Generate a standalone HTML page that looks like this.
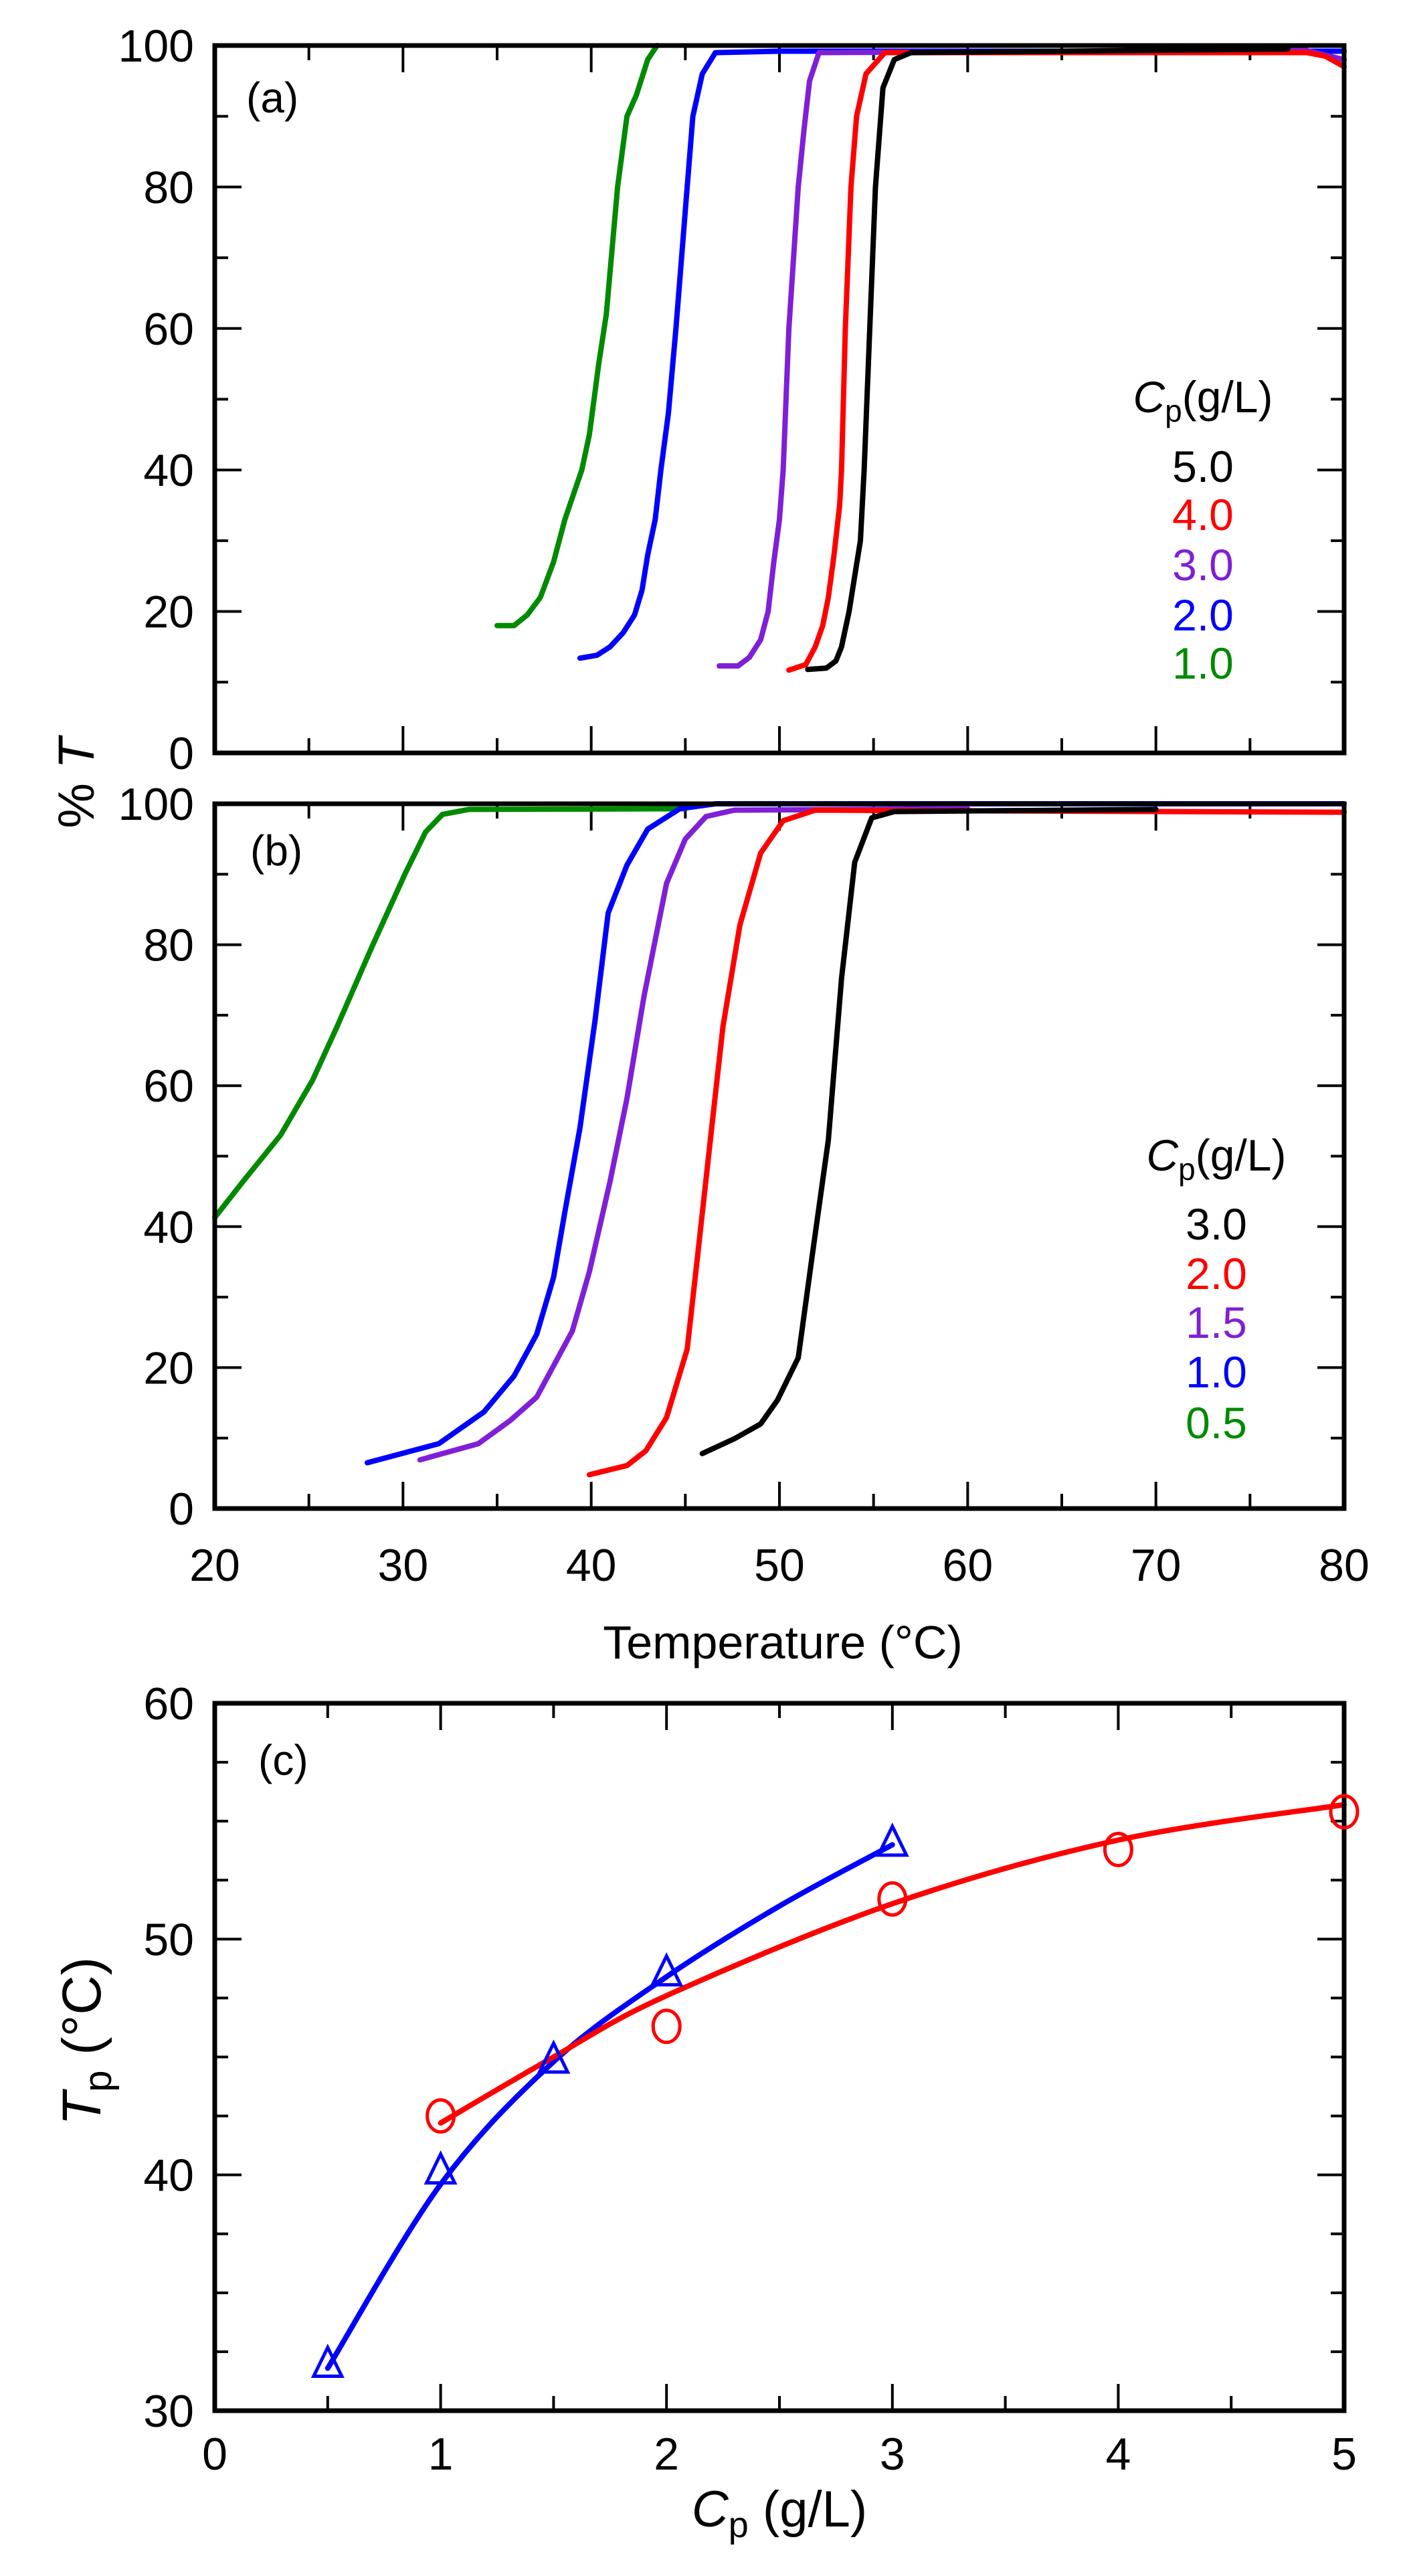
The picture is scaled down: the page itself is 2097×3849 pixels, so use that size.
<!DOCTYPE html>
<html><head><meta charset="utf-8">
<style>
html,body{margin:0;padding:0;background:#fff;}
svg{display:block;}
text{font-family:"Liberation Sans",sans-serif;}
</style></head>
<body>
<svg id="s" width="2097" height="3849" viewBox="0 0 2097 3849" xmlns="http://www.w3.org/2000/svg">
<rect width="2097" height="3849" fill="#fff"/>
<g id="ticks" stroke="#000" stroke-width="4"></g>
<g id="curves" fill="none" stroke-width="8" stroke-linejoin="round" stroke-linecap="round"></g>
<g id="frames" fill="none" stroke="#000" stroke-width="7">
<rect x="321" y="68" width="1688" height="1057"/>
<rect x="321" y="1201" width="1688" height="1053"/>
<rect x="321" y="2545" width="1688" height="1057"/>
</g>
<g font-size="68" text-anchor="end" id="ylabA"></g>
<g font-size="68" text-anchor="end" id="ylabB"></g>
<g font-size="68" text-anchor="middle" id="xlabB"></g>
<g font-size="68" text-anchor="end" id="ylabC"></g>
<g font-size="68" text-anchor="middle" id="xlabC"></g>
<text x="368" y="168" font-size="64">(a)</text>
<text x="374" y="1293" font-size="64">(b)</text>
<text x="386" y="2652" font-size="64">(c)</text>
<text transform="translate(140,1170) rotate(-90)" font-size="76" text-anchor="middle">% <tspan font-style="italic">T</tspan></text>
<text x="1170" y="2478" font-size="70" text-anchor="middle">Temperature (°C)</text>
<text transform="translate(150,3050) rotate(-90)" font-size="82" text-anchor="middle"><tspan font-style="italic">T</tspan><tspan font-size="58" dy="16">p</tspan><tspan dy="-16"> (°C)</tspan></text>
<text x="1165" y="3775" font-size="76" text-anchor="middle"><tspan font-style="italic">C</tspan><tspan font-size="54" dy="16">p</tspan><tspan dy="-16"> (g/L)</tspan></text>
<g font-size="66" text-anchor="middle">
<text x="1798" y="616"><tspan font-style="italic">C</tspan><tspan font-size="46" dy="14">p</tspan><tspan dy="-14">(g/L)</tspan></text>
<text x="1798" y="720" fill="#000">5.0</text>
<text x="1798" y="792" fill="#ff0000">4.0</text>
<text x="1798" y="867" fill="#7f1fd8">3.0</text>
<text x="1798" y="942" fill="#0000ff">2.0</text>
<text x="1798" y="1014" fill="#008a00">1.0</text>
<text x="1818" y="1749"><tspan font-style="italic">C</tspan><tspan font-size="46" dy="14">p</tspan><tspan dy="-14">(g/L)</tspan></text>
<text x="1818" y="1852" fill="#000">3.0</text>
<text x="1818" y="1926" fill="#ff0000">2.0</text>
<text x="1818" y="1999" fill="#7f1fd8">1.5</text>
<text x="1818" y="2073" fill="#0000ff">1.0</text>
<text x="1818" y="2149" fill="#008a00">0.5</text>
</g>
<g id="markers" fill="none" stroke-width="5"></g>
</svg>
<script>
var NS="http://www.w3.org/2000/svg";
function el(p,n,a,t){var e=document.createElementNS(NS,n);for(var k in a)e.setAttribute(k,a[k]);if(t!==undefined)e.textContent=t;document.getElementById(p).appendChild(e);return e;}
var L=321,R=2009;
function xT(t){return L+(t-20)*(R-L)/60;}
var PA={top:68,bot:1125},PB={top:1201,bot:2254};
function yP(p,v){return p.bot-(p.bot-p.top)*v/100;}
[PA,PB].forEach(function(P){
 for(var t=25;t<80;t+=5){var M=(t%10==0);var x=xT(t);
  el("ticks","line",{x1:x,x2:x,y1:P.bot,y2:P.bot-(M?40:22)});
  el("ticks","line",{x1:x,x2:x,y1:P.top,y2:P.top+(M?40:22)});}
 for(var v=10;v<100;v+=10){var M=(v%20==0);var y=yP(P,v);
  el("ticks","line",{x1:L,x2:L+(M?40:20),y1:y,y2:y});
  el("ticks","line",{x1:R,x2:R-(M?40:20),y1:y,y2:y});}
});
for(var v=0;v<=100;v+=20){el("ylabA","text",{x:290,y:yP(PA,v)+24},String(v));el("ylabB","text",{x:290,y:yP(PB,v)+24},String(v));}
for(var t=20;t<=80;t+=10){el("xlabB","text",{x:xT(t),y:2362},String(t));}
function curve(P,col,pts){el("curves","polyline",{stroke:col,points:pts.map(function(p){return xT(p[0]).toFixed(1)+","+yP(P,p[1]).toFixed(1);}).join(" ")});}
var G="#008a00",B="#0000ff",V="#7f1fd8",Rr="#ff0000",K="#000";
curve(PA,G,[[35,18],[35.9,18],[36.6,19.5],[37.3,22],[38,27],[38.6,33],[39.5,40],[39.9,45],[40.4,55],[40.8,62],[41.4,80],[41.9,90],[42.4,93],[43,98],[43.5,100]]);
curve(PA,B,[[39.4,13.4],[40.3,13.8],[41,15],[41.7,17],[42.3,19.5],[42.7,23],[43,28],[43.4,33],[43.7,40],[44.1,48],[44.5,60],[44.8,70],[45.1,80],[45.4,90],[45.9,96],[46.6,99],[50,99.2],[80,99.2]]);
curve(PA,V,[[46.8,12.3],[47.8,12.3],[48.4,13.5],[49,16],[49.4,20],[49.7,27],[50,33],[50.2,40],[50.5,60],[50.8,72],[51,80],[51.3,88],[51.6,95],[52.1,99],[78,99.3],[80,98]]);
curve(PA,Rr,[[50.5,11.7],[51.4,12.5],[51.9,15],[52.3,18],[52.6,22],[52.9,28],[53.2,35],[53.3,40],[53.5,60],[53.8,80],[54.1,90],[54.6,96],[55.6,99],[78,99],[79,98.5],[80,97]]);
curve(PA,K,[[51.5,11.8],[52.5,12],[53,13],[53.3,15],[53.7,20],[54,25],[54.3,30],[54.5,40],[54.8,60],[55.1,80],[55.5,94],[56.1,98],[57,99],[77,99.5]]);
curve(PB,G,[[20,41.3],[21.5,46.4],[23.5,53],[25.2,60.8],[26.5,68.4],[28.3,79.4],[30.1,90],[31.2,96],[32.1,98.5],[33.5,99.2],[45,99.3]]);
curve(PB,B,[[28.1,6.5],[31.9,9.2],[34.3,13.7],[35.9,18.8],[37.1,24.7],[38,32.8],[38.6,42.1],[39.4,54],[40.2,69.2],[40.9,84.5],[41.9,91.3],[43,96.4],[44.7,99.3],[46.6,100],[80,100]]);
curve(PB,V,[[30.9,6.9],[34,9.2],[35.7,12.5],[37.1,15.8],[39,25.2],[39.9,33.6],[41,46.4],[41.9,58.2],[42.8,72.6],[44,88.7],[45,95],[46.1,98.2],[47.6,99.1],[60,99.3]]);
curve(PB,Rr,[[39.9,4.8],[41.9,6.1],[42.9,8.2],[44,12.9],[45.1,22.6],[45.7,37],[46.4,54],[47,68.4],[47.9,82.8],[49,93],[50.2,97.6],[51.9,99.1],[80,98.8]]);
curve(PB,K,[[45.9,7.8],[47.6,9.9],[49,12],[49.9,15.4],[51,21.4],[51.8,37],[52.6,52.3],[53.3,75.2],[54,91.7],[54.9,98],[56.1,98.9],[70,99.2]]);
var CT=2545,CB=3602;
function xC(c){return L+c*(R-L)/5;}
function yC(t){return CB-(t-30)*(CB-CT)/30;}
for(var c=0.5;c<5;c+=0.5){var M=(Math.abs(c-Math.round(c))<0.01);var x=xC(c);
 el("ticks","line",{x1:x,x2:x,y1:CB,y2:CB-(M?40:22)});el("ticks","line",{x1:x,x2:x,y1:CT,y2:CT+(M?40:22)});}
for(var t=32.5;t<60;t+=2.5){var M=(t%10==0);var y=yC(t);
 el("ticks","line",{x1:L,x2:L+(M?40:20),y1:y,y2:y});el("ticks","line",{x1:R,x2:R-(M?40:20),y1:y,y2:y});}
for(var t=30;t<=60;t+=10){el("ylabC","text",{x:290,y:yC(t)+24},String(t));}
for(var c=0;c<=5;c++){el("xlabC","text",{x:xC(c),y:3690},String(c));}
function smooth(pts){var p=pts.map(function(q){return [xC(q[0]),yC(q[1])];});var d="M"+p[0][0]+","+p[0][1];
 for(var i=0;i<p.length-1;i++){var p0=p[i-1]||p[i],p1=p[i],p2=p[i+1],p3=p[i+2]||p2;
  d+=" C"+(p1[0]+(p2[0]-p0[0])/6)+","+(p1[1]+(p2[1]-p0[1])/6)+" "+(p2[0]-(p3[0]-p1[0])/6)+","+(p2[1]-(p3[1]-p1[1])/6)+" "+p2[0]+","+p2[1];}
 return d;}
el("curves","path",{stroke:B,d:smooth([[0.5,31.8],[1,39.6],[1.5,44.8],[2,48.4],[2.5,51.4],[3,54]])});
el("curves","path",{stroke:Rr,d:smooth([[1,42.2],[1.5,45],[2,47.6],[3,51.5],[4,54.2],[5,55.7]])});
[[1,42.5],[2,46.3],[3,51.7],[4,53.8],[5,55.4]].forEach(function(q){el("markers","ellipse",{cx:xC(q[0]),cy:yC(q[1]),rx:20,ry:24,stroke:Rr});});
[[0.5,32],[1,40.2],[1.5,44.9],[2,48.6],[3,54.1]].forEach(function(q){var x=xC(q[0]),y=yC(q[1]);
 el("markers","polygon",{points:(x-21)+","+(y+19)+" "+(x+21)+","+(y+19)+" "+x+","+(y-24),stroke:B});});
</script>
</body></html>
